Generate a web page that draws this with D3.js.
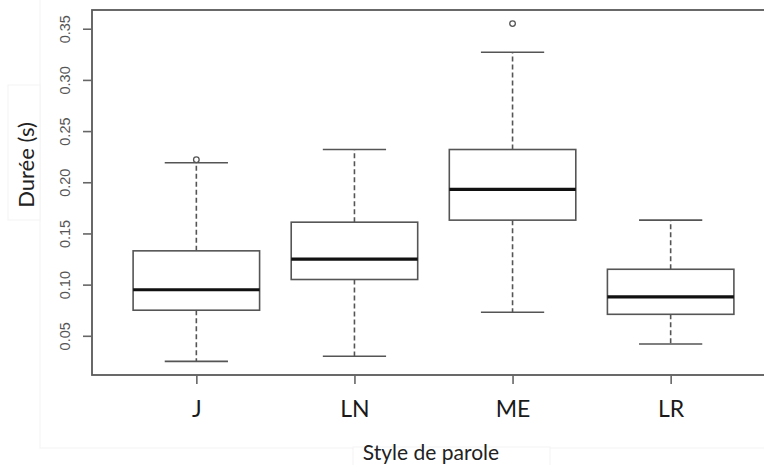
<!DOCTYPE html>
<html>
<head>
<meta charset="utf-8">
<script src="https://cdn.jsdelivr.net/npm/d3@7"></script>
<style>
  body { margin: 0; background: #fff; }
  svg { display: block; }
</style>
</head>
<body>
<svg width="764" height="465"></svg>
<script>
// data
var categories = ["J", "LN", "ME", "LR"];
var lowerWhisker = [0.025, 0.030, 0.073, 0.042];
var q1 = [0.075, 0.105, 0.163, 0.071];
var median = [0.095, 0.125, 0.193, 0.088];
var q3 = [0.133, 0.161, 0.232, 0.115];
var upperWhisker = [0.219, 0.232, 0.327, 0.163];
var outlierCat = ["J", "ME"];
var outlierVal = [0.222, 0.355];
var yTicks = [0.05, 0.10, 0.15, 0.20, 0.25, 0.30, 0.35];

var svg = d3.select("svg");

// faint slide boxes behind the picture
svg.append("rect")
    .attr("x", 40).attr("y", -2).attr("width", 740).attr("height", 450)
    .style("fill", "#fff").style("stroke", "#f3f3f3");

var frame = {left: 92, top: 10, right: 775, bottom: 375};

var x = d3.scaleLinear()
    .domain([0.34, 4.66])
    .range([frame.left, frame.right]);

var y = d3.scaleLinear()
    .domain([0.0117, 0.3683])
    .range([frame.bottom, frame.top]);

var halfBox = x(1.4) - x(1);
var halfCap = x(1.2) - x(1);

var boxes = categories.map(function(c, i) {
    return {cat: c, pos: i + 1, lo: lowerWhisker[i], q1: q1[i], med: median[i], q3: q3[i], hi: upperWhisker[i]};
});

var g = svg.selectAll("g.box").data(boxes).enter().append("g").attr("class", "box");

// whiskers
g.append("line")
    .attr("x1", d => x(d.pos)).attr("x2", d => x(d.pos))
    .attr("y1", d => y(d.q3)).attr("y2", d => y(d.hi))
    .style("stroke", "#555").style("stroke-width", 1.6).style("stroke-dasharray", "5,3");
g.append("line")
    .attr("x1", d => x(d.pos)).attr("x2", d => x(d.pos))
    .attr("y1", d => y(d.q1)).attr("y2", d => y(d.lo))
    .style("stroke", "#555").style("stroke-width", 1.6).style("stroke-dasharray", "5,3");

// caps
g.append("line")
    .attr("x1", d => x(d.pos) - halfCap).attr("x2", d => x(d.pos) + halfCap)
    .attr("y1", d => y(d.hi)).attr("y2", d => y(d.hi))
    .style("stroke", "#555").style("stroke-width", 1.6);
g.append("line")
    .attr("x1", d => x(d.pos) - halfCap).attr("x2", d => x(d.pos) + halfCap)
    .attr("y1", d => y(d.lo)).attr("y2", d => y(d.lo))
    .style("stroke", "#555").style("stroke-width", 1.6);

// box
g.append("rect")
    .attr("x", d => x(d.pos) - halfBox)
    .attr("width", 2 * halfBox)
    .attr("y", d => y(d.q3))
    .attr("height", d => y(d.q1) - y(d.q3))
    .style("fill", "#fff").style("stroke", "#555").style("stroke-width", 1.6);

// median
g.append("line")
    .attr("x1", d => x(d.pos) - halfBox).attr("x2", d => x(d.pos) + halfBox)
    .attr("y1", d => y(d.med)).attr("y2", d => y(d.med))
    .style("stroke", "#111").style("stroke-width", 3.2);

// outliers
svg.selectAll("circle.out").data(outlierVal).enter().append("circle")
    .attr("class", "out")
    .attr("cx", (d, i) => x(categories.indexOf(outlierCat[i]) + 1))
    .attr("cy", d => y(d))
    .attr("r", 2.8)
    .style("fill", "#fff").style("stroke", "#555").style("stroke-width", 1.3);

// frame
svg.append("rect")
    .attr("x", frame.left).attr("y", frame.top)
    .attr("width", frame.right - frame.left).attr("height", frame.bottom - frame.top)
    .style("fill", "none").style("stroke", "#595959").style("stroke-width", 1.8);

// y axis
var yAxis = svg.append("g")
    .attr("transform", "translate(" + frame.left + ",0)")
    .call(d3.axisLeft(y).tickValues(yTicks).tickSize(9).tickFormat(d3.format(".2f")));
yAxis.select(".domain").remove();
yAxis.selectAll(".tick line").style("stroke", "#666").style("stroke-width", 1.6);
yAxis.selectAll(".tick text")
    .attr("x", null).attr("dy", null)
    .attr("transform", "translate(-22,0) rotate(-90)")
    .attr("text-anchor", "middle")
    .style("font-family", "'Liberation Sans', Arial, sans-serif")
    .style("font-size", "14.5px")
    .style("fill", "#555");

// x axis
var xAxis = svg.append("g")
    .attr("transform", "translate(0," + frame.bottom + ")")
    .call(d3.axisBottom(x).tickValues([1, 2, 3, 4]).tickSize(9).tickFormat(d => categories[d - 1]));
xAxis.select(".domain").remove();
xAxis.selectAll(".tick line").style("stroke", "#666").style("stroke-width", 1.6);
xAxis.selectAll(".tick text")
    .attr("y", 42).attr("dy", null)
    .style("font-family", "Lato, 'Open Sans', sans-serif")
    .style("font-size", "23px")
    .style("fill", "#1a1a1a");

// axis titles
svg.append("rect")
    .attr("x", 353).attr("y", 447).attr("width", 197).attr("height", 25)
    .style("fill", "#fff").style("stroke", "#f3f3f3");
svg.append("text")
    .attr("x", 431).attr("y", 460)
    .attr("text-anchor", "middle")
    .style("font-family", "Lato, 'Open Sans', sans-serif")
    .style("font-size", "21px")
    .style("fill", "#222")
    .text("Style de parole");

svg.append("rect")
    .attr("x", 8).attr("y", 85).attr("width", 32).attr("height", 135)
    .style("fill", "#fff").style("stroke", "#f3f3f3");
svg.append("text")
    .attr("transform", "translate(34,165) rotate(-90)")
    .attr("text-anchor", "middle")
    .style("font-family", "Lato, 'Open Sans', sans-serif")
    .style("font-size", "22px")
    .style("fill", "#222")
    .text("Durée (s)");
</script>
</body>
</html>
